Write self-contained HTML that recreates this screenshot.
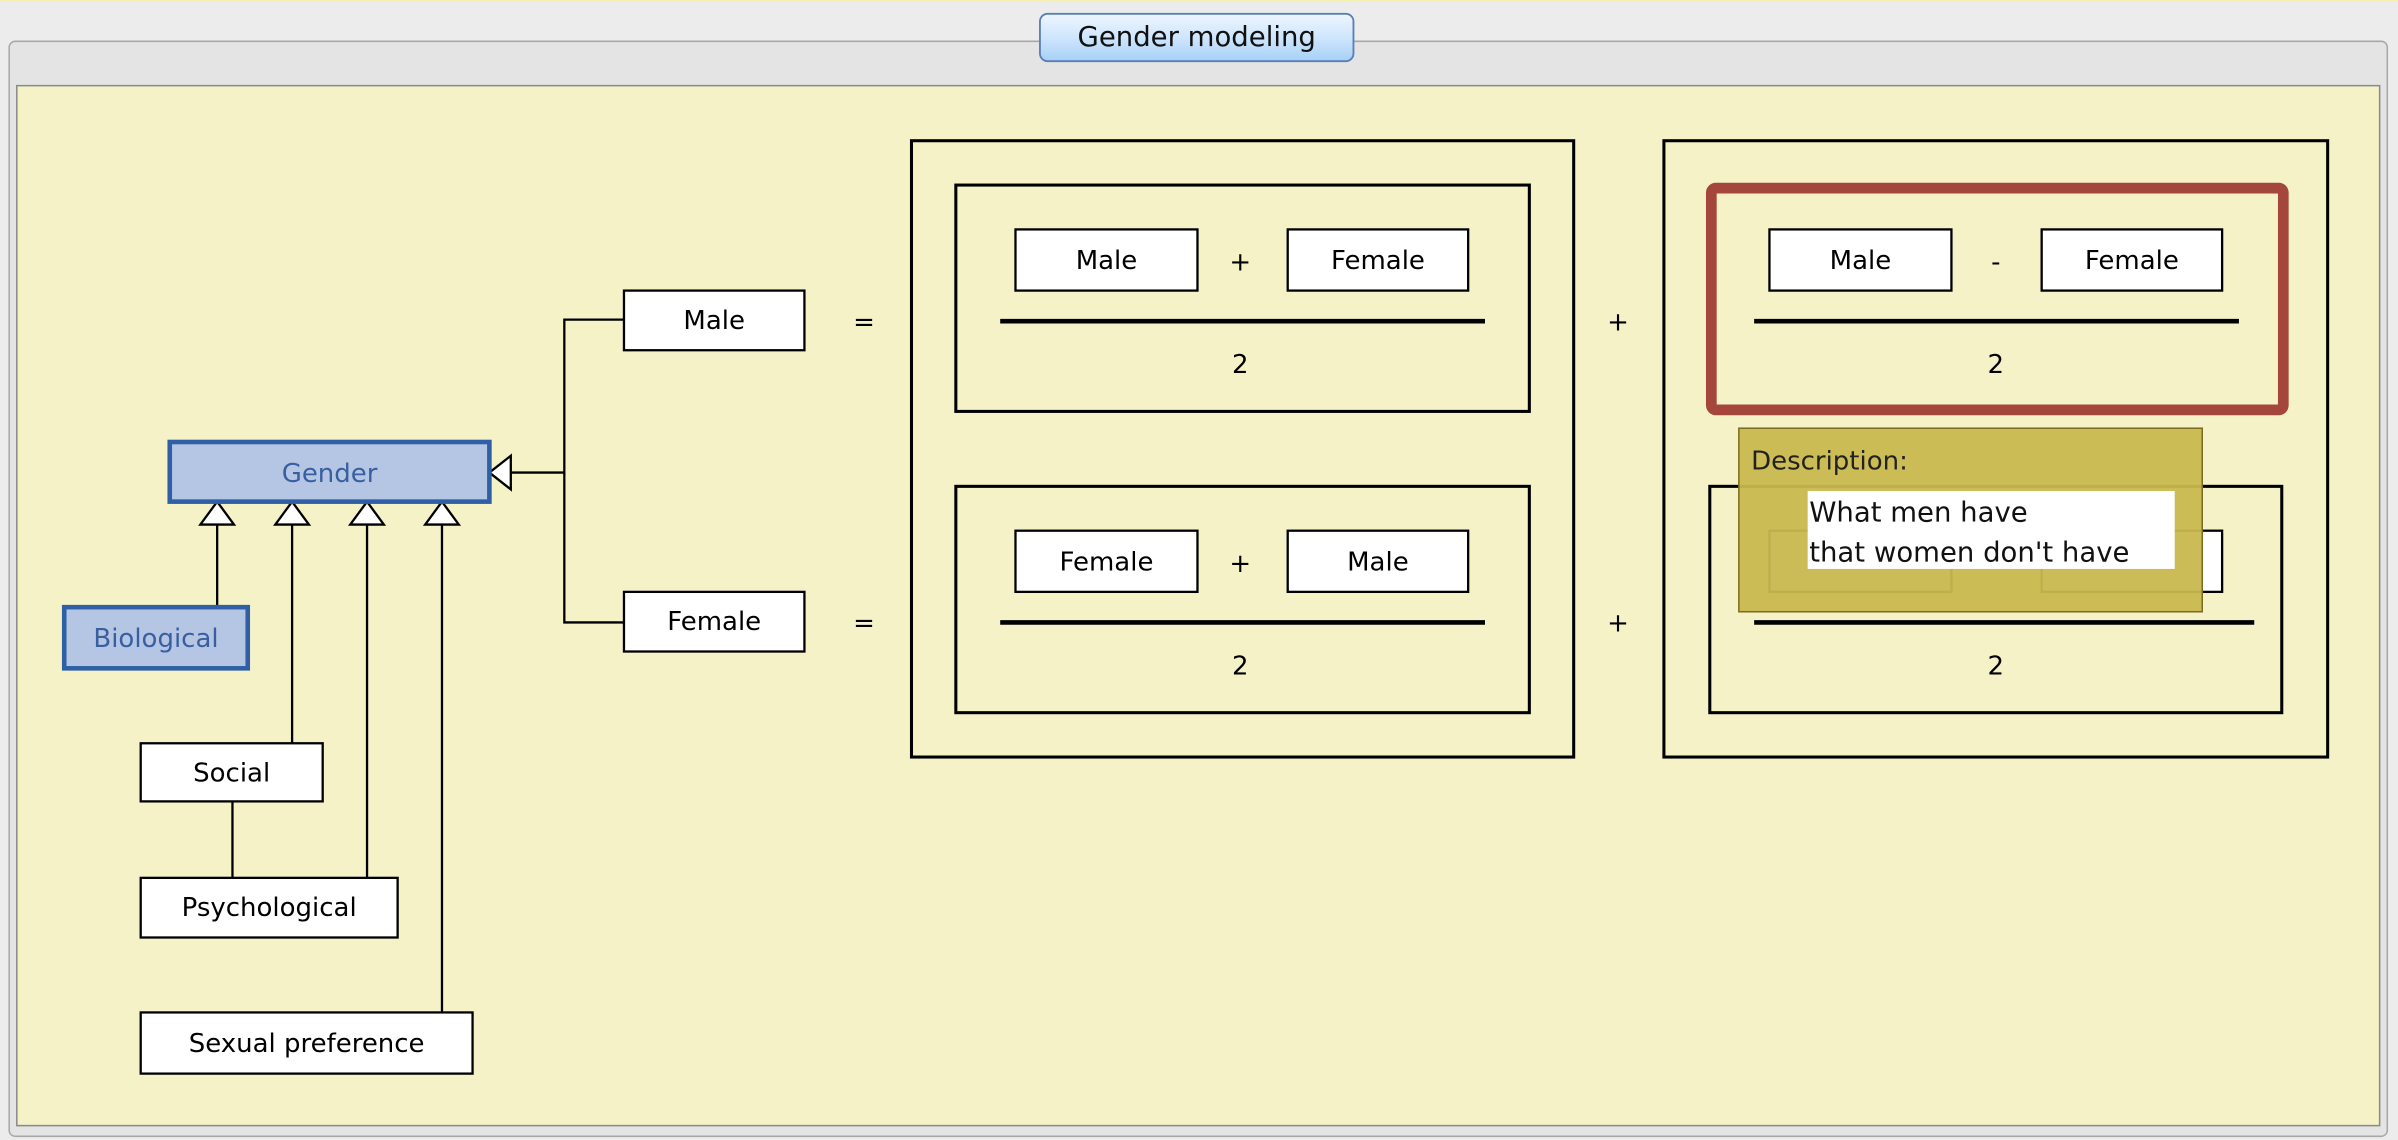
<!DOCTYPE html>
<html><head><meta charset="utf-8"><style>
html,body{margin:0;padding:0;background:#ececec;}
svg{display:block;}
text{font-family:"DejaVu Sans","Liberation Sans",sans-serif;}
</style></head><body>
<svg width="2398" height="1140" viewBox="0 0 1568 745.4" xmlns="http://www.w3.org/2000/svg">
<defs>
<linearGradient id="tab" x1="0" y1="0" x2="0" y2="1">
<stop offset="0" stop-color="#eef6ff"/><stop offset="0.5" stop-color="#cfe6fd"/><stop offset="1" stop-color="#a6d0f7"/>
</linearGradient>
</defs>
<rect x="0" y="0" width="1568" height="745.4" fill="#ececec"/>
<rect x="0" y="0" width="1568" height="1.2" fill="#f3f0b0"/>
<rect x="6" y="27" width="1555" height="716" rx="4" fill="#e4e4e4" stroke="#a8a8a8" stroke-width="1"/>
<rect x="11" y="56" width="1545" height="680" fill="#f5f2c8" stroke="#8a8a8a" stroke-width="1"/>
<rect x="680" y="9" width="205" height="31" rx="5" fill="url(#tab)" stroke="#5a7fb5" stroke-width="1.2"/>
<text x="782.5" y="30" font-size="18" text-anchor="middle" fill="#111">Gender modeling</text>

<g stroke="#000" stroke-width="1.5" fill="none">
<line x1="142" y1="343" x2="142" y2="396"/>
<line x1="191" y1="343" x2="191" y2="486"/>
<line x1="240" y1="343" x2="240" y2="574"/>
<line x1="289" y1="343" x2="289" y2="662"/>
<line x1="152" y1="524" x2="152" y2="574"/>
<line x1="334" y1="309" x2="369" y2="309"/>
<polyline points="408,209 369,209 369,407 408,407"/>
</g>
<g stroke="#000" stroke-width="1.5" fill="#fff">
<polygon points="142,328 131,343 153,343"/>
<polygon points="191,328 180,343 202,343"/>
<polygon points="240,328 229,343 251,343"/>
<polygon points="289,328 278,343 300,343"/>
<polygon points="320,309 334,298 334,320"/>
</g>

<g stroke="#2f5fa5" stroke-width="3" fill="#b4c6e4">
<rect x="111" y="289" width="209" height="39"/>
<rect x="42" y="397" width="120" height="40"/>
</g>
<g font-size="17" fill="#3a5fa0" text-anchor="middle">
<text x="215.5" y="315">Gender</text>
<text x="102" y="423">Biological</text>
</g>

<g stroke="#000" stroke-width="1.5" fill="#fff">
<rect x="92" y="486" width="119" height="38"/>
<rect x="92" y="574" width="168" height="39"/>
<rect x="92" y="662" width="217" height="40"/>
<rect x="408" y="190" width="118" height="39"/>
<rect x="408" y="387" width="118" height="39"/>
</g>
<g font-size="17" fill="#000" text-anchor="middle">
<text x="151.5" y="511">Social</text>
<text x="176" y="599">Psychological</text>
<text x="200.5" y="688">Sexual preference</text>
<text x="467" y="215">Male</text>
<text x="467" y="412">Female</text>
<text x="565" y="216">=</text>
<text x="565" y="413">=</text>
<text x="1058" y="216">+</text>
<text x="1058" y="413">+</text>
</g>

<g stroke="#000" stroke-width="2" fill="none">
<rect x="596" y="92" width="433" height="403"/>
<rect x="1088" y="92" width="434" height="403"/>
<rect x="625" y="121" width="375" height="148"/>
<rect x="625" y="318" width="375" height="148"/>
<rect x="1118" y="318" width="374" height="148"/>
</g>
<rect x="1119" y="123" width="374" height="145" rx="3" fill="none" stroke="#a5463c" stroke-width="7"/>

<g stroke="#000" stroke-width="1.5" fill="#fff">
<rect x="664" y="150" width="119" height="40"/>
<rect x="842" y="150" width="118" height="40"/>
<rect x="664" y="347" width="119" height="40"/>
<rect x="842" y="347" width="118" height="40"/>
<rect x="1157" y="150" width="119" height="40"/>
<rect x="1335" y="150" width="118" height="40"/>
<rect x="1157" y="347" width="119" height="40"/>
<rect x="1335" y="347" width="118" height="40"/>
</g>
<g stroke="#000" stroke-width="3">
<line x1="654" y1="210" x2="971" y2="210"/>
<line x1="654" y1="407" x2="971" y2="407"/>
<line x1="1147" y1="210" x2="1464" y2="210"/>
<line x1="1147" y1="407" x2="1474" y2="407"/>
</g>
<g font-size="17" fill="#000" text-anchor="middle">
<text x="723.5" y="176">Male</text>
<text x="811" y="177">+</text>
<text x="901" y="176">Female</text>
<text x="811" y="244">2</text>
<text x="723.5" y="373">Female</text>
<text x="811" y="374">+</text>
<text x="901" y="373">Male</text>
<text x="811" y="441">2</text>
<text x="1216.5" y="176">Male</text>
<text x="1305" y="177">-</text>
<text x="1394" y="176">Female</text>
<text x="1305" y="244">2</text>
<text x="1305" y="441">2</text>
</g>

<rect x="1137" y="280" width="303" height="120" fill="#c9b84f" fill-opacity="0.95" stroke="#7a6c20" stroke-width="1"/>
<text x="1145" y="307" font-size="17" fill="#222">Description:</text>
<rect x="1182" y="321" width="240" height="51" fill="#fff"/>
<g font-size="18" fill="#111">
<text x="1183" y="341">What men have</text>
<text x="1183" y="367">that women don't have</text>
</g>
</svg>
</body></html>
